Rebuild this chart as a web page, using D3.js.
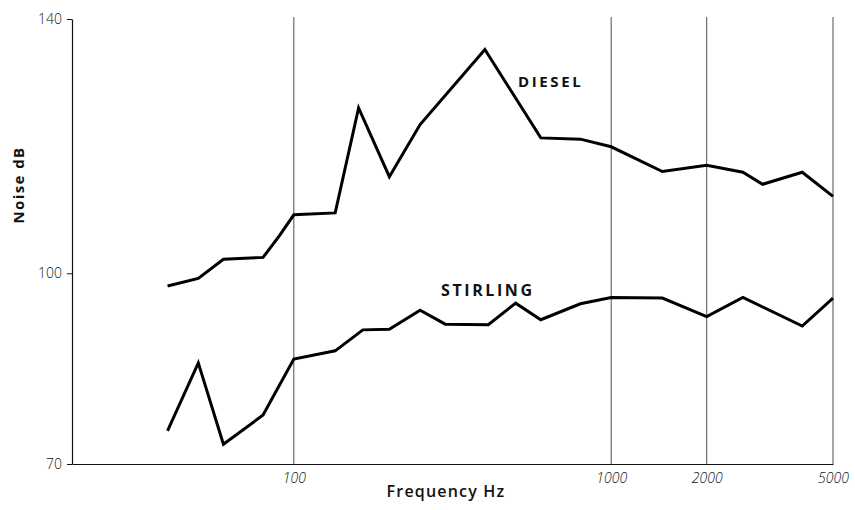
<!DOCTYPE html>
<html lang='en'>
    <head>
        <meta charset='utf-8'>
        <title>Noise spectrum</title>
        <script src="https://d3js.org/d3.v7.min.js"></script>
        <style>
            body { margin: 0; background: #fff; }
            .tick text { font-family: 'Open Sans', 'DejaVu Sans', sans-serif; font-weight: 300; font-size: 14px; fill: #111; }
            .label { font-family: 'Open Sans', 'DejaVu Sans', sans-serif; font-weight: 700; fill: #111; }
        </style>
    </head>
    <body>
        <script>
            var width = 855;
            var height = 510;

            // data
            var dieselFreq = [40, 50, 60, 80, 90, 100, 135, 160, 200, 250, 400, 600, 800, 1000, 1450, 2000, 2600, 3000, 4000, 5000];
            var dieselDb   = [98.0, 99.2, 102.2, 102.5, 105.9, 109.2, 109.5, 126.0, 115.2, 123.4, 135.2, 121.3, 121.1, 119.9, 116.0, 117.0, 115.9, 114.0, 115.9, 112.1];
            var stirlingFreq = [40, 50, 60, 80, 100, 135, 165, 200, 250, 300, 410, 500, 600, 800, 1000, 1450, 2000, 2600, 4000, 5000];
            var stirlingDb   = [75.2, 85.9, 73.1, 77.7, 86.5, 87.8, 91.1, 91.2, 94.2, 92.0, 91.9, 95.3, 92.7, 95.2, 96.2, 96.1, 93.2, 96.2, 91.7, 96.1];
            var xTicks = [100, 1000, 2000, 5000];
            var yTicks = [70, 100, 140];

            var x = d3.scaleLog()
                      .domain([20, 5000])
                      .range([72, 833]);
            var y = d3.scaleLinear()
                      .domain([70, 140])
                      .range([464, 19]);

            var svg = d3.select('body')
                        .append('svg')
                        .attr('width', width)
                        .attr('height', height);

            // vertical grid lines
            svg.selectAll('.grid')
               .data(xTicks)
               .enter()
               .append('line')
               .attr('class', 'grid')
               .attr('x1', function(d) { return x(d); })
               .attr('x2', function(d) { return x(d); })
               .attr('y1', 17)
               .attr('y2', y(70))
               .attr('stroke', '#222')
               .attr('stroke-width', 0.8);

            // axes
            var xAxis = d3.axisBottom(x)
                          .tickValues(xTicks)
                          .tickSize(0)
                          .tickPadding(9)
                          .tickFormat(d3.format('d'));
            svg.append('g')
               .attr('transform', 'translate(0,' + y(70) + ')')
               .call(xAxis)
               .call(function(g) { g.select('.domain').attr('stroke', '#111').attr('stroke-width', 1.2); })
               .selectAll('text')
               .style('font-style', 'italic');

            var yAxis = d3.axisLeft(y)
                          .tickValues(yTicks)
                          .tickSize(5)
                          .tickSizeOuter(0)
                          .tickPadding(5);
            svg.append('g')
               .attr('transform', 'translate(' + x(20) + ',0)')
               .call(yAxis)
               .call(function(g) {
                   g.select('.domain').attr('stroke', '#111').attr('stroke-width', 1.2);
                   g.selectAll('.tick line').attr('stroke', '#111');
               });

            // series lines
            var line = d3.line()
                         .x(function(d) { return x(d[0]); })
                         .y(function(d) { return y(d[1]); });

            var series = [
                d3.zip(dieselFreq, dieselDb),
                d3.zip(stirlingFreq, stirlingDb)
            ];
            svg.selectAll('.series')
               .data(series)
               .enter()
               .append('path')
               .attr('class', 'series')
               .attr('d', line)
               .attr('fill', 'none')
               .attr('stroke', '#000')
               .attr('stroke-width', 3)
               .attr('stroke-linejoin', 'miter');

            // line labels
            svg.append('text')
               .attr('class', 'label')
               .attr('x', 518)
               .attr('y', 87)
               .style('font-size', '15px')
               .style('letter-spacing', '2.6px')
               .text('DIESEL');
            svg.append('text')
               .attr('class', 'label')
               .attr('x', 441)
               .attr('y', 296)
               .style('font-size', '16px')
               .style('letter-spacing', '2.6px')
               .text('STIRLING');

            // axis titles
            svg.append('text')
               .attr('class', 'label')
               .attr('x', 446)
               .attr('y', 497)
               .attr('text-anchor', 'middle')
               .style('font-size', '16px')
               .style('font-weight', 600)
               .style('letter-spacing', '1.2px')
               .text('Frequency Hz');
            svg.append('text')
               .attr('class', 'label')
               .attr('transform', 'translate(24,185) rotate(-90)')
               .attr('text-anchor', 'middle')
               .style('font-size', '15px')
               .style('letter-spacing', '1.4px')
               .text('Noise dB');
        </script>
    </body>
</html>
